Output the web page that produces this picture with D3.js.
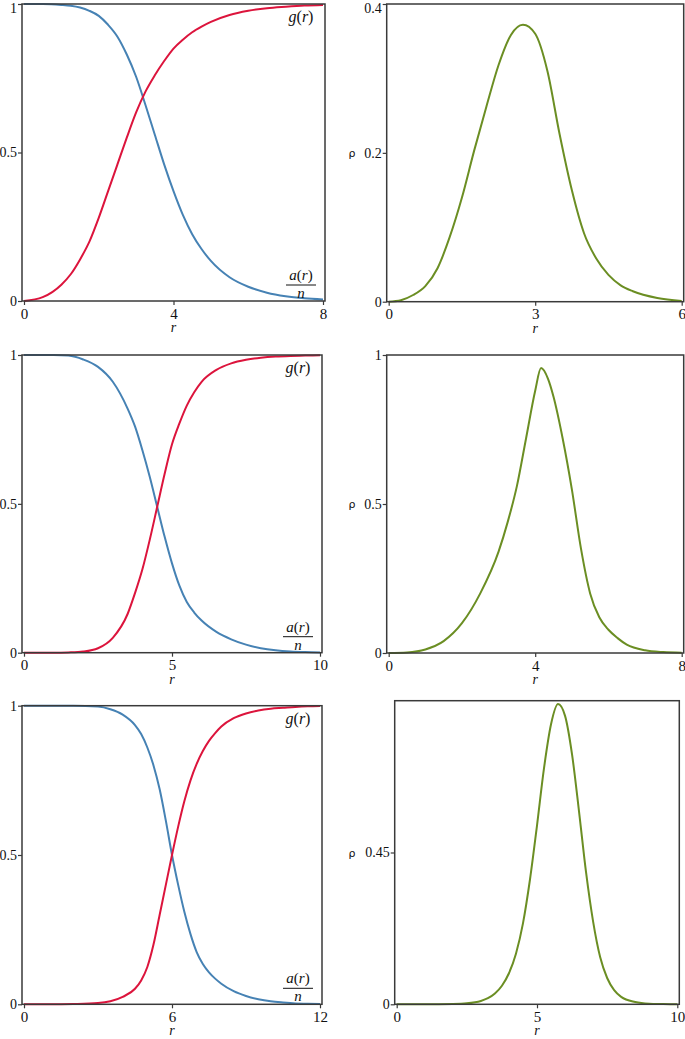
<!DOCTYPE html>
<html><head><meta charset="utf-8">
<script src="https://cdn.jsdelivr.net/npm/d3@7"></script>
<style>
html,body{margin:0;padding:0;background:#fff}svg{display:block}
svg text{font-family:"Liberation Serif","Times New Roman","DejaVu Serif",serif;fill:#111}
svg text.rho{font-family:"DejaVu Sans",sans-serif}
</style>
</head><body>
<script>
// ---------- data ----------
// Row 1 (left): r in [0,8]
const r1 = [0,0.5,1,1.25,1.5,1.75,2,2.25,2.5,2.75,3,3.25,3.5,3.75,4,4.25,4.5,4.75,5,5.5,6,6.5,7,7.5,8];
const g1 = [0,0.013,0.055,0.09,0.14,0.2,0.28,0.37,0.46,0.55,0.635,0.705,0.76,0.808,0.85,0.88,0.905,0.924,0.94,0.963,0.977,0.986,0.991,0.995,0.997];
const a1 = [1,1,0.997,0.994,0.988,0.977,0.96,0.93,0.89,0.83,0.755,0.66,0.56,0.46,0.37,0.29,0.225,0.175,0.135,0.08,0.048,0.028,0.016,0.009,0.005];
// Row 1 (right): rho, r in [0,6]
const rr1 = [0,0.25,0.5,0.75,1,1.25,1.5,1.75,2,2.25,2.5,2.75,3,3.25,3.5,3.75,4,4.25,4.5,4.75,5,5.5,6];
const rho1 = [0,0.002,0.009,0.021,0.045,0.087,0.14,0.203,0.262,0.318,0.358,0.372,0.36,0.31,0.225,0.15,0.092,0.058,0.036,0.022,0.014,0.005,0.001];
// Row 2 (left): r in [0,10]
const r2 = [0,1,1.5,2,2.5,3,3.5,3.75,4,4.25,4.5,4.75,5,5.25,5.5,5.75,6,6.5,7,7.5,8,8.5,9,9.5,10];
const g2 = [0,0,0.001,0.004,0.015,0.05,0.13,0.2,0.28,0.38,0.49,0.6,0.7,0.77,0.83,0.875,0.91,0.95,0.972,0.984,0.991,0.995,0.997,0.998,0.999];
const a2 = [1,1,0.998,0.985,0.96,0.91,0.82,0.76,0.68,0.59,0.49,0.39,0.3,0.225,0.17,0.135,0.108,0.07,0.045,0.027,0.015,0.008,0.004,0.002,0.001];
// Row 2 (right): rho, r in [0,8]
const rr2 = [0,0.5,1,1.5,2,2.5,3,3.25,3.5,3.75,4,4.16,4.35,4.5,4.75,5,5.25,5.5,5.75,6,6.25,6.5,7,7.5,8];
const rho2 = [0,0.002,0.012,0.04,0.1,0.2,0.34,0.44,0.56,0.72,0.88,0.956,0.92,0.86,0.72,0.55,0.35,0.2,0.12,0.078,0.05,0.028,0.009,0.003,0.001];
// Row 3 (left): r in [0,12]
const r3 = [0,1,2,3,3.5,4,4.5,4.75,5,5.25,5.5,5.75,6,6.25,6.5,6.75,7,7.25,7.5,7.75,8,8.5,9,9.5,10,10.5,11,11.5,12];
const g3 = [0,0,0.001,0.004,0.01,0.025,0.052,0.08,0.125,0.2,0.3,0.4,0.5,0.595,0.68,0.75,0.805,0.848,0.882,0.908,0.93,0.958,0.974,0.984,0.99,0.993,0.996,0.998,0.999];
const a3 = [1,1,1,0.997,0.988,0.97,0.935,0.905,0.86,0.8,0.72,0.615,0.5,0.4,0.31,0.235,0.175,0.135,0.107,0.086,0.069,0.044,0.028,0.017,0.01,0.006,0.003,0.002,0.001];
// Row 3 (right): rho, r in [0,10]
const rr3 = [0,1,2,2.5,3,3.25,3.5,3.75,4,4.25,4.5,4.75,5,5.25,5.5,5.75,6,6.25,6.5,6.75,7,7.25,7.5,7.75,8,8.5,9,9.5,10];
const rho3 = [0,0,0.001,0.003,0.01,0.018,0.032,0.055,0.092,0.15,0.24,0.37,0.53,0.7,0.83,0.89,0.855,0.74,0.57,0.39,0.245,0.14,0.078,0.042,0.022,0.007,0.002,0.001,0];

// tick values / labels
const xTicksL = [[0,4,8],[0,5,10],[0,6,12]];
const xTicksR = [[0,3,6],[0,4,8],[0,5,10]];
const yTicksL = [0,0.5,1];
const yTicksR = [[0,0.2,0.4],[0,0.5,1],[0,0.45]];
const yDomR = [0.4,1,0.9];

// ---------- drawing ----------
const W = 685, H = 1039;
const svg = d3.select("body").append("svg").attr("width", W).attr("height", H);
const RED = "#dc143c", BLUE = "#4682b4", GREEN = "#6b8e23";

function panel(opt) {
  const x = d3.scaleLinear().domain(opt.xdom).range(opt.xr);
  const y = d3.scaleLinear().domain(opt.ydom).range(opt.yr);
  const g = svg.append("g");
  const pad = 2;
  const line = d3.line().x(d => x(d[0])).y(d => y(d[1])).curve(d3.curveMonotoneX);
  opt.series.forEach(s => {
    g.append("path").datum(d3.zip(s.r, s.v)).attr("d", line)
      .attr("fill", "none").attr("stroke", s.color).attr("stroke-width", 2);
  });
  g.append("rect").attr("x", opt.xr[0] - pad).attr("y", opt.yr[1])
    .attr("width", opt.xr[1] - opt.xr[0] + 2 * pad).attr("height", opt.yr[0] - opt.yr[1])
    .attr("fill", "none").attr("stroke", "#3a3a3a").attr("stroke-width", 1.5);
  const xa = d3.axisBottom(x).tickValues(opt.xticks).tickSize(4).tickPadding(3).tickFormat(d3.format("d"));
  const gx = g.append("g").attr("transform", `translate(0,${opt.yr[0]})`).call(xa);
  gx.attr("font-family", null).attr("font-size", null);
  gx.select(".domain").remove();
  gx.selectAll("line").attr("stroke", "#3a3a3a").attr("stroke-width", 1.2);
  gx.selectAll("text").style("font-size", "15px");
  const ya = d3.axisLeft(y).tickValues(opt.yticks).tickSize(4).tickPadding(1).tickFormat(d => String(d));
  const gy = g.append("g").attr("transform", `translate(${opt.xr[0] - pad},0)`).call(ya);
  gy.attr("font-family", null).attr("font-size", null);
  gy.select(".domain").remove();
  gy.selectAll("line").attr("stroke", "#3a3a3a").attr("stroke-width", 1.2);
  gy.selectAll("text").style("font-size", "14px")
    .attr("dy", d => (y(d) < 10 ? "0.6em" : "0.32em"));
  g.append("text").attr("x", (opt.xr[0] + opt.xr[1]) / 2).attr("y", opt.yr[0] + 31)
    .attr("text-anchor", "middle").style("font-style", "italic")
    .style("font-size", "14px").text("r");
  if (opt.rho) {
    g.append("text").attr("class", "rho").attr("x", 352).attr("y", y(opt.rho) + 4).attr("text-anchor", "middle")
      .style("font-size", "11px").text("ρ");
  }
  if (opt.labels) {
    const cx = opt.xr[1] - 22;
    const gt = g.append("text").attr("x", cx).attr("y", opt.yr[1] + 18).attr("text-anchor", "middle")
      .style("font-size", "16px");
    gt.append("tspan").style("font-style", "italic").text("g");
    gt.append("tspan").text("(");
    gt.append("tspan").style("font-style", "italic").text("r");
    gt.append("tspan").text(")");
    const by = opt.yr[0];
    const at = g.append("text").attr("x", cx).attr("y", by - 21).attr("text-anchor", "middle")
      .style("font-size", "15px");
    at.append("tspan").style("font-style", "italic").text("a");
    at.append("tspan").text("(");
    at.append("tspan").style("font-style", "italic").text("r");
    at.append("tspan").text(")");
    g.append("line").attr("x1", cx - 15).attr("x2", cx + 15).attr("y1", by - 16).attr("y2", by - 16)
      .attr("stroke", "#111").attr("stroke-width", 1);
    g.append("text").attr("x", cx).attr("y", by - 3).attr("text-anchor", "middle")
      .style("font-style", "italic").style("font-size", "15px").text("n");
  }
}

const rowsY = [[301, 4], [652.7, 355], [1004.3, 705.7]];
const leftXR = [[24, 323], [24, 320], [24, 320]];
const rightXR = [[388.7, 681.7], [388.7, 681.7], [396.7, 677.3]];
const rightYR = [[301.7, 4], [653, 355], [1004.3, 700.7]];
const leftData = [[r1, g1, a1], [r2, g2, a2], [r3, g3, a3]];
const rightData = [[rr1, rho1], [rr2, rho2], [rr3, rho3]];
const rhoAt = [0.2, 0.5, 0.45];

for (let i = 0; i < 3; i++) {
  const [rv, gv, av] = leftData[i];
  panel({
    xdom: [0, xTicksL[i][2]], ydom: [0, 1], xr: leftXR[i], yr: rowsY[i],
    xticks: xTicksL[i], yticks: yTicksL,
    series: [{r: rv, v: av, color: BLUE}, {r: rv, v: gv, color: RED}],
    labels: true
  });
  const [rr, rho] = rightData[i];
  panel({
    xdom: [0, xTicksR[i][2]], ydom: [0, yDomR[i]], xr: rightXR[i], yr: rightYR[i],
    xticks: xTicksR[i], yticks: yTicksR[i],
    series: [{r: rr, v: rho, color: GREEN}],
    rho: rhoAt[i]
  });
}
</script>
</body></html>
